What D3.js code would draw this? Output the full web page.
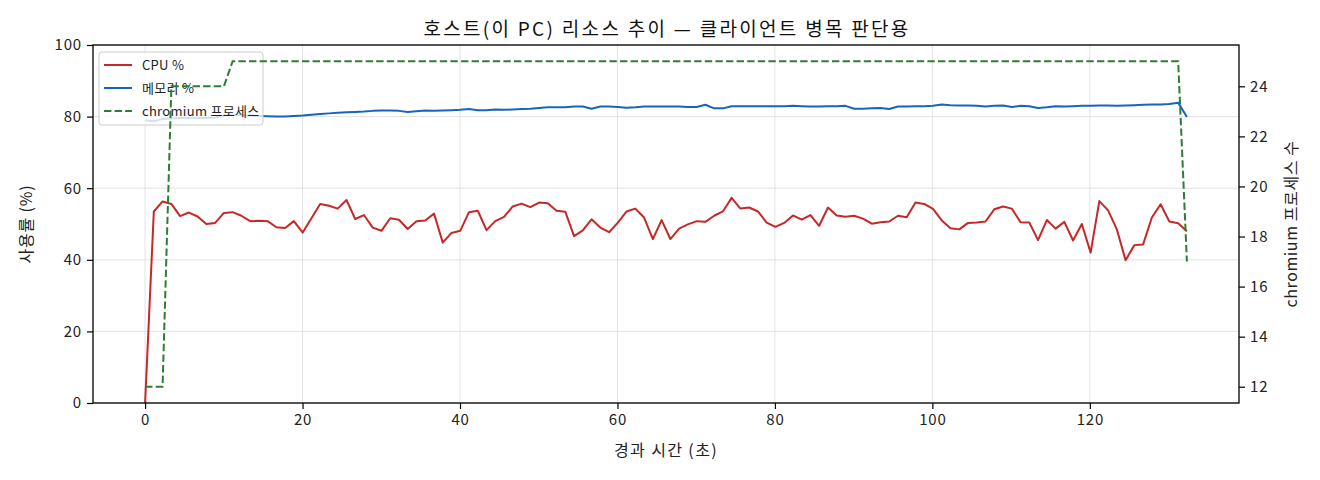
<!DOCTYPE html>
<html>
<head>
<meta charset="utf-8">
<script src="https://cdn.jsdelivr.net/npm/d3@7"></script>
<style>
  html, body { margin: 0; padding: 0; background: #fff; }
  svg { display: block; font-family: "Noto Sans CJK KR", "Noto Sans", sans-serif; }
</style>
</head>
<body>
<svg id="chart" width="1320" height="480"></svg>
<script>
// ---- data ----
const times = [0, 1.11, 2.22, 3.34, 4.45, 5.56, 6.67, 7.78, 8.90, 10.01, 11.12, 12.23, 13.34, 14.46, 15.57, 16.68, 17.79, 18.90, 20.02, 21.13,
  22.24, 23.35, 24.46, 25.58, 26.69, 27.80, 28.91, 30.02, 31.14, 32.25, 33.36, 34.47, 35.58, 36.70, 37.81, 38.92, 40.03, 41.14, 42.26, 43.37,
  44.48, 45.59, 46.70, 47.82, 48.93, 50.04, 51.15, 52.26, 53.38, 54.49, 55.60, 56.71, 57.82, 58.94, 60.05, 61.16, 62.27, 63.38, 64.50, 65.61,
  66.72, 67.83, 68.94, 70.06, 71.17, 72.28, 73.39, 74.50, 75.62, 76.73, 77.84, 78.95, 80.06, 81.18, 82.29, 83.40, 84.51, 85.62, 86.74, 87.85,
  88.96, 90.07, 91.18, 92.30, 93.41, 94.52, 95.63, 96.74, 97.86, 98.97, 100.08, 101.19, 102.30, 103.42, 104.53, 105.64, 106.75, 107.86, 108.98, 110.09,
  111.20, 112.31, 113.42, 114.54, 115.65, 116.76, 117.87, 118.98, 120.10, 121.21, 122.32, 123.43, 124.54, 125.66, 126.77, 127.88, 128.99, 130.10, 131.22, 132.33];

const cpuPct = [0, 53.5, 56.3, 55.6, 52.2, 53.2, 52.1, 50.0, 50.3, 53.1, 53.3, 52.3, 50.8, 50.9, 50.8, 49.1, 48.9, 50.8, 47.6, 51.6,
  55.6, 55.1, 54.3, 56.7, 51.4, 52.5, 49.0, 48.1, 51.6, 51.2, 48.6, 50.8, 51.0, 52.9, 44.8, 47.5, 48.1, 53.3, 53.7, 48.3,
  50.8, 52.0, 54.9, 55.7, 54.7, 56.0, 55.8, 53.7, 53.4, 46.6, 48.2, 51.3, 49.0, 47.7, 50.4, 53.5, 54.3, 51.8, 45.8, 51.1,
  45.8, 48.7, 49.9, 50.8, 50.6, 52.3, 53.5, 57.3, 54.3, 54.6, 53.5, 50.4, 49.2, 50.3, 52.4, 51.2, 52.5, 49.5, 54.6, 52.4,
  52.0, 52.3, 51.5, 50.1, 50.5, 50.7, 52.3, 51.9, 56.0, 55.6, 54.2, 51.0, 48.8, 48.5, 50.3, 50.4, 50.7, 54.1, 54.9, 54.3,
  50.5, 50.4, 45.5, 51.1, 48.7, 50.6, 45.4, 50.0, 42.0, 56.4, 53.8, 48.5, 39.9, 44.1, 44.3, 51.8, 55.5, 50.7, 50.2, 48.0];

const memPct = [79.0, 78.7, 79.3, 79.5, 79.6, 79.6, 79.6, 79.6, 79.7, 80.3, 80.5, 80.4, 80.3, 80.2, 80.1, 80.0, 80.0, 80.2, 80.3, 80.5,
  80.7, 80.9, 81.1, 81.2, 81.3, 81.4, 81.6, 81.7, 81.7, 81.6, 81.3, 81.5, 81.7, 81.6, 81.7, 81.8, 81.9, 82.1, 81.8, 81.8,
  82.0, 81.9, 82.0, 82.1, 82.2, 82.4, 82.6, 82.6, 82.6, 82.8, 82.8, 82.2, 82.8, 82.8, 82.7, 82.5, 82.6, 82.8, 82.8, 82.8,
  82.8, 82.8, 82.7, 82.7, 83.3, 82.3, 82.3, 82.9, 82.9, 82.9, 82.9, 82.9, 82.9, 82.9, 83.0, 82.9, 82.8, 82.8, 82.9, 82.9,
  83.0, 82.2, 82.2, 82.3, 82.4, 82.1, 82.8, 82.8, 82.9, 82.9, 83.0, 83.4, 83.2, 83.1, 83.1, 83.0, 82.8, 83.0, 83.1, 82.7,
  83.0, 82.9, 82.4, 82.6, 82.9, 82.8, 82.9, 83.0, 83.0, 83.1, 83.1, 83.0, 83.1, 83.2, 83.3, 83.4, 83.4, 83.5, 83.9, 79.9];

const chromiumProcs = [12, 12, 12, 24, 24, 24, 24, 24, 24, 24, 25, 25, 25, 25, 25, 25, 25, 25, 25, 25,
  25, 25, 25, 25, 25, 25, 25, 25, 25, 25, 25, 25, 25, 25, 25, 25, 25, 25, 25, 25,
  25, 25, 25, 25, 25, 25, 25, 25, 25, 25, 25, 25, 25, 25, 25, 25, 25, 25, 25, 25,
  25, 25, 25, 25, 25, 25, 25, 25, 25, 25, 25, 25, 25, 25, 25, 25, 25, 25, 25, 25,
  25, 25, 25, 25, 25, 25, 25, 25, 25, 25, 25, 25, 25, 25, 25, 25, 25, 25, 25, 25,
  25, 25, 25, 25, 25, 25, 25, 25, 25, 25, 25, 25, 25, 25, 25, 25, 25, 25, 25, 17];

const xTicks = [0, 20, 40, 60, 80, 100, 120];
const yLeftTicks = [0, 20, 40, 60, 80, 100];
const yRightTicks = [12, 14, 16, 18, 20, 22, 24];

const seriesNames = ["CPU %", "메모리 %", "chromium 프로세스"];
const titleText = "호스트(이 PC) 리소스 추이 — 클라이언트 병목 판단용";
const xLabel = "경과 시간 (초)";
const yLeftLabel = "사용률 (%)";
const yRightLabel = "chromium 프로세스 수";

// ---- layout ----
const L = 93, R = 1239, T = 45, B = 403;
const colCpu = "#c62828", colMem = "#1565c0", colProc = "#2e7d32";

const svg = d3.select("#chart");

const xMin = d3.min(times), xMax = d3.max(times);
const xPad = (xMax - xMin) * 0.05;
const x = d3.scaleLinear().domain([xMin - xPad, xMax + xPad]).range([L, R]);
const yL = d3.scaleLinear().domain([0, 100]).range([B, T]);
const pMin = d3.min(chromiumProcs), pMax = d3.max(chromiumProcs);
const pPad = (pMax - pMin) * 0.05;
const yR = d3.scaleLinear().domain([pMin - pPad, pMax + pPad]).range([B, T]);

// grid
const grid = svg.append("g").attr("stroke", "#e3e3e3").attr("stroke-width", 1);
xTicks.forEach(t => grid.append("line").attr("x1", x(t)).attr("x2", x(t)).attr("y1", T).attr("y2", B));
yLeftTicks.forEach(t => grid.append("line").attr("x1", L).attr("x2", R).attr("y1", yL(t)).attr("y2", yL(t)));

svg.append("clipPath").attr("id", "plotclip").append("rect")
  .attr("x", L).attr("y", T).attr("width", R - L).attr("height", B - T);

const idx = d3.range(times.length);
const lineCpu = d3.line().x(i => x(times[i])).y(i => yL(cpuPct[i]));
const lineMem = d3.line().x(i => x(times[i])).y(i => yL(memPct[i]));
const lineProc = d3.line().x(i => x(times[i])).y(i => yR(chromiumProcs[i]));

const plot = svg.append("g").attr("clip-path", "url(#plotclip)");
plot.append("path").attr("d", lineCpu(idx)).attr("fill", "none").attr("stroke", colCpu)
  .attr("stroke-width", 2).attr("stroke-linejoin", "round");
plot.append("path").attr("d", lineMem(idx)).attr("fill", "none").attr("stroke", colMem)
  .attr("stroke-width", 2).attr("stroke-linejoin", "round");

// legend (belongs to the left axis, drawn under the right-axis line)
const lg = svg.append("g").attr("transform", `translate(99,52)`);
lg.append("rect").attr("width", 164).attr("height", 73).attr("rx", 3)
  .attr("fill", "rgba(255,255,255,0.8)").attr("stroke", "#cccccc").attr("stroke-width", 1);
const legendCols = [colCpu, colMem, colProc];
seriesNames.forEach((n, k) => {
  const yy = 13 + k * 23;
  lg.append("line").attr("x1", 5).attr("x2", 33).attr("y1", yy).attr("y2", yy)
    .attr("stroke", legendCols[k]).attr("stroke-width", 2)
    .attr("stroke-dasharray", k === 2 ? "7.4,3.2" : null);
  lg.append("text").attr("x", 43).attr("y", yy).attr("dy", "0.35em")
    .attr("font-size", 13).attr("letter-spacing", 0.3).attr("fill", "#222").text(n);
});

// right-axis line on top
svg.append("g").attr("clip-path", "url(#plotclip)")
  .append("path").attr("d", lineProc(idx)).attr("fill", "none").attr("stroke", colProc)
  .attr("stroke-width", 2).attr("stroke-dasharray", "7.4,3.2");

// axes
const fs = 15;
const ax = svg.append("g").attr("transform", `translate(0,${B})`)
  .call(d3.axisBottom(x).tickValues(xTicks).tickSize(6).tickPadding(5).tickFormat(d3.format("d")));
const ayl = svg.append("g").attr("transform", `translate(${L},0)`)
  .call(d3.axisLeft(yL).tickValues(yLeftTicks).tickSize(6).tickPadding(5).tickFormat(d3.format("d")));
const ayr = svg.append("g").attr("transform", `translate(${R},0)`)
  .call(d3.axisRight(yR).tickValues(yRightTicks).tickSize(6).tickPadding(5).tickFormat(d3.format("d")));
[ax, ayl, ayr].forEach(g => {
  g.select(".domain").remove();
  g.selectAll(".tick line").attr("stroke", "#000").attr("stroke-width", 1.2);
  g.selectAll(".tick text").attr("font-size", fs).attr("fill", "#222").attr("letter-spacing", 0.8)
    .attr("font-family", "'Noto Sans CJK KR', sans-serif");
});

// frame
svg.append("rect").attr("x", L).attr("y", T).attr("width", R - L).attr("height", B - T)
  .attr("fill", "none").attr("stroke", "#000").attr("stroke-width", 1.3);

// title & labels
svg.append("text").attr("x", (L + R) / 2 + 1).attr("y", 36).attr("text-anchor", "middle")
  .attr("font-size", 19).attr("letter-spacing", 2.3).attr("fill", "#111").text(titleText);
svg.append("text").attr("x", (L + R) / 2).attr("y", 456).attr("text-anchor", "middle")
  .attr("font-size", 16).attr("letter-spacing", 1.4).attr("fill", "#222").text(xLabel);
svg.append("text").attr("transform", `translate(32,${(T + B) / 2}) rotate(-90)`).attr("text-anchor", "middle")
  .attr("font-size", 16).attr("letter-spacing", 0.8).attr("fill", "#222").text(yLeftLabel);
svg.append("text").attr("transform", `translate(1297,${(T + B) / 2}) rotate(-90)`).attr("text-anchor", "middle")
  .attr("font-size", 16).attr("letter-spacing", 0.6).attr("fill", "#222").text(yRightLabel);
</script>
</body>
</html>
